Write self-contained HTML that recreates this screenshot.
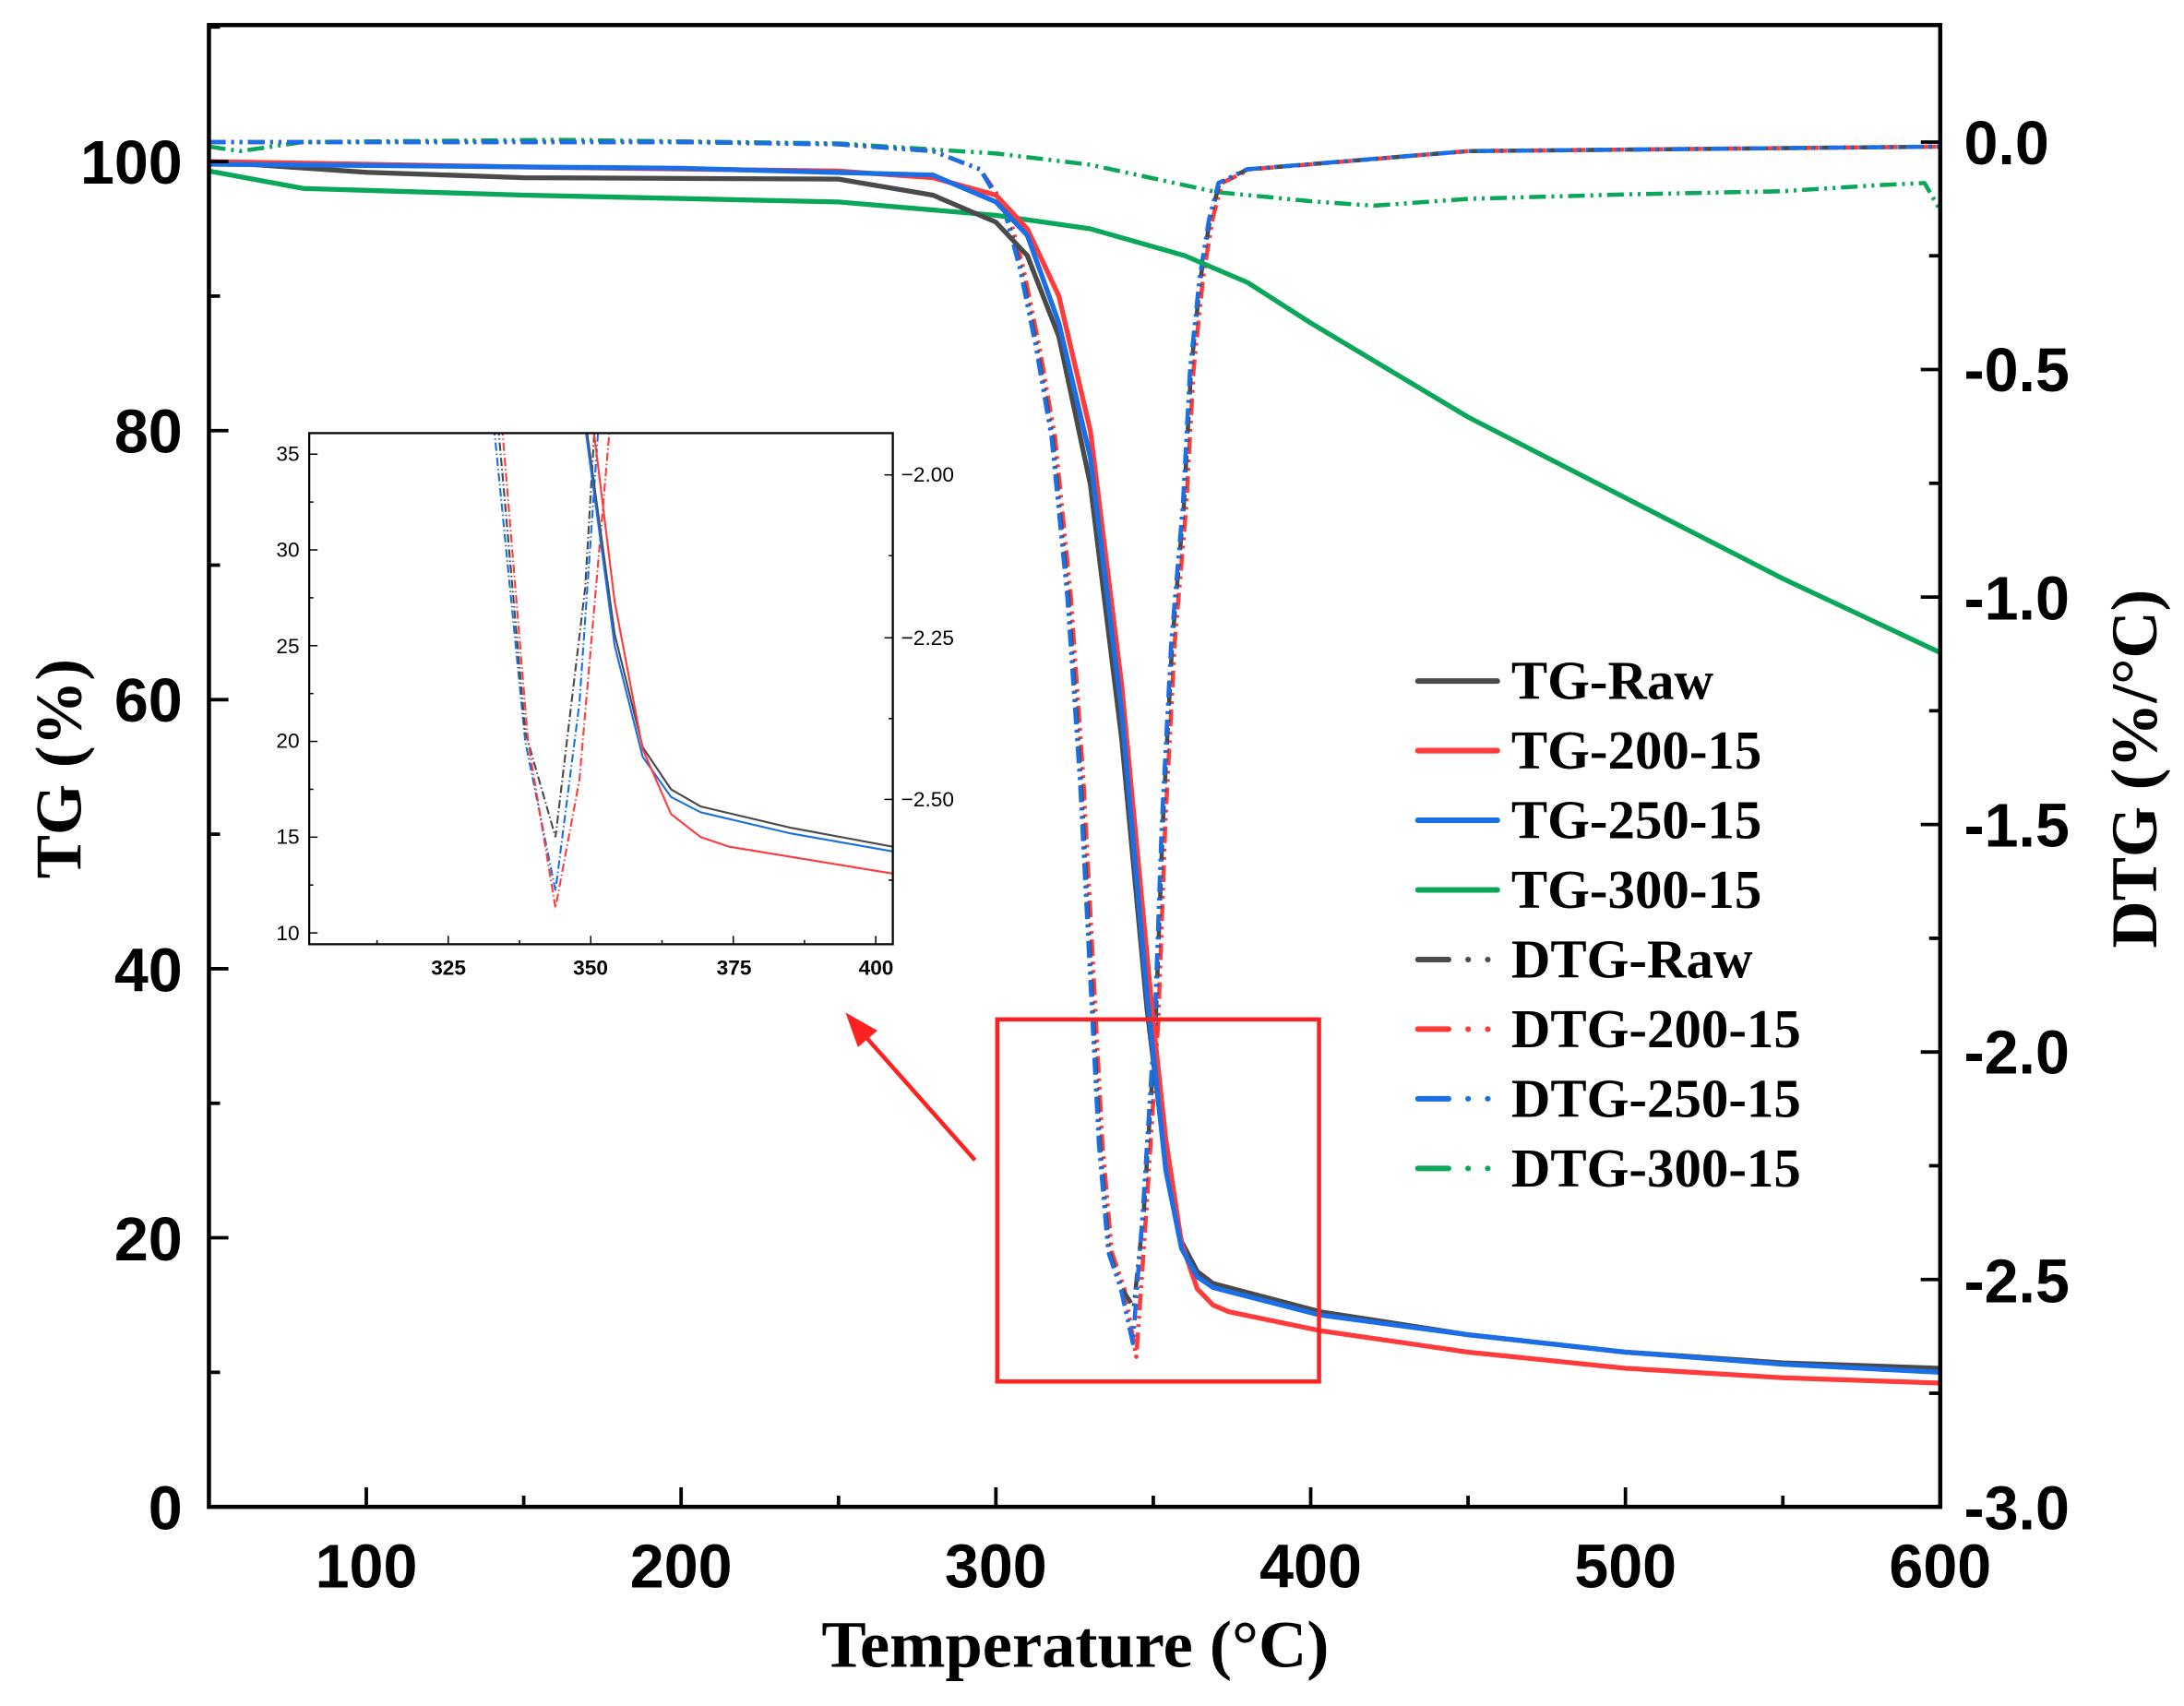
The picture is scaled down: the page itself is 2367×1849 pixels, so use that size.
<!DOCTYPE html>
<html><head><meta charset="utf-8"><style>html,body{margin:0;padding:0;background:#fff}svg{display:block}</style></head>
<body>
<svg id="s" width="2367" height="1849" viewBox="0 0 1568 1225" preserveAspectRatio="none" xmlns="http://www.w3.org/2000/svg">
<rect width="1568" height="1225" fill="#fff"/>
<g id="plot"></g>
<g font-family="Liberation Sans, sans-serif" font-weight="bold" font-size="44" fill="#000">
<text x="131" y="132" text-anchor="end">100</text>
<text x="131" y="325" text-anchor="end">80</text>
<text x="131" y="518" text-anchor="end">60</text>
<text x="131" y="712" text-anchor="end">40</text>
<text x="131" y="905" text-anchor="end">20</text>
<text x="131" y="1098" text-anchor="end">0</text>
<text x="263" y="1140" text-anchor="middle">100</text>
<text x="489" y="1140" text-anchor="middle">200</text>
<text x="715" y="1140" text-anchor="middle">300</text>
<text x="941" y="1140" text-anchor="middle">400</text>
<text x="1167" y="1140" text-anchor="middle">500</text>
<text x="1393" y="1140" text-anchor="middle">600</text>
<text x="1410" y="118">0.0</text>
<text x="1410" y="281">-0.5</text>
<text x="1410" y="445">-1.0</text>
<text x="1410" y="608">-1.5</text>
<text x="1410" y="771">-2.0</text>
<text x="1410" y="935">-2.5</text>
<text x="1410" y="1098">-3.0</text>
</g>
<g font-family="Liberation Serif, serif" font-weight="bold" fill="#000">
<text x="772" y="1197" font-size="48" text-anchor="middle">Temperature (°C)</text>
<text transform="translate(58,552) rotate(-90)" font-size="47" text-anchor="middle">TG (%)</text>
<text transform="translate(1548,552) rotate(-90)" font-size="47" text-anchor="middle">DTG (%/°C)</text>
</g>
<g font-family="Liberation Serif, serif" font-weight="bold" font-size="39" fill="#000" id="leg"></g>
<g font-family="Liberation Sans, sans-serif" font-size="15" fill="#000">
<text x="215" y="331" text-anchor="end">35</text>
<text x="215" y="400" text-anchor="end">30</text>
<text x="215" y="469" text-anchor="end">25</text>
<text x="215" y="537" text-anchor="end">20</text>
<text x="215" y="606" text-anchor="end">15</text>
<text x="215" y="675" text-anchor="end">10</text>
<text x="322" y="700" text-anchor="middle" font-weight="bold">325</text>
<text x="424" y="700" text-anchor="middle" font-weight="bold">350</text>
<text x="527" y="700" text-anchor="middle" font-weight="bold">375</text>
<text x="629" y="700" text-anchor="middle" font-weight="bold">400</text>
<text x="647" y="346">−2.00</text>
<text x="647" y="463">−2.25</text>
<text x="647" y="579">−2.50</text>
</g>
<rect x="716" y="732" width="231" height="260" fill="none" stroke="#ff2020" stroke-width="3"/>
<line x1="700" y1="833" x2="622" y2="745" stroke="#ff2020" stroke-width="3"/>
<polygon points="607,727 630,740 616,752" fill="#ff2020"/>
<script>
(function(){
var NS="http://www.w3.org/2000/svg",g=document.getElementById('plot');
function el(n,a){var e=document.createElementNS(NS,n);for(var k in a)e.setAttribute(k,a[k]);g.appendChild(e);return e;}
var X=function(t){return 150+(t-50)*2.26},Y=function(v){return 1082-9.66*v},YD=function(d){return 102-326.7*d};
function path(pts,fx,fy,col,w,dash){var d=pts.map(function(p,i){return(i?'L':'M')+fx(p[0]).toFixed(1)+','+fy(p[1]).toFixed(1)}).join('');var a={d:d,fill:'none',stroke:col,'stroke-width':w,'stroke-linejoin':'round'};if(dash)a['stroke-dasharray']=dash;return el('path',a);}
var K='#4a4a4a',R='#ff3b3b',B='#1a6fe6',G='#0aa65a';
var dd='12,4,2,4,2,4';
var dk=[[50,0.0],[100,0.0],[200,0.0],[250,-0.005],[280,-0.02],[295,-0.06],[303,-0.15],[308,-0.28],[313,-0.45],[318,-0.65],[323,-1.0],[327,-1.4],[330,-1.8],[333,-2.2],[336,-2.44],[340,-2.52],[343.8,-2.56],[347,-2.35],[350.8,-1.93],[353,-1.5],[356,-1.1],[359.7,-0.8],[362,-0.5],[365,-0.3],[368,-0.17],[371,-0.09],[380,-0.06],[450,-0.02],[600,-0.01]];
function shift(arr,dx,minv){return arr.map(function(p){var v=p[1];if(p[0]>341&&p[0]<347&&minv)v=minv;return[p[0]+(p[0]>300&&p[0]<400?dx:0),v];});}
var dg=[[50,-0.01],[60,-0.02],[80,0],[160,0.005],[250,-0.003],[300,-0.025],[330,-0.05],[350,-0.08],[370,-0.11],[400,-0.13],[420,-0.14],[450,-0.125],[500,-0.115],[550,-0.108],[580,-0.095],[595,-0.09],[600,-0.15]];
path(dg,X,YD,G,3,dd);
path(shift(dk,0.8,-2.67),X,YD,R,3,dd);
path(shift(dk,0,-2.56),X,YD,K,3,dd);
path(shift(dk,-0.3,-2.64),X,YD,B,3,dd);
var tk=[[50,100],[100,99.2],[150,98.8],[250,98.7],[280,97.5],[300,95.5],[310,93],[320,87],[330,76],[340,57],[348,37],[354,25.6],[359,19.7],[364,17.5],[369,16.6],[403,14.5],[450,12.8],[500,11.5],[550,10.7],[600,10.3]];
var tr=[[50,100],[150,99.6],[250,99.3],[280,98.8],[300,97.5],[310,95],[320,90],[330,80],[340,61],[350,36],[354,27.3],[359,19.6],[364,16.2],[369,15],[374,14.5],[403,13.1],[450,11.5],[500,10.3],[550,9.6],[600,9.2]];
var tb=[[50,99.8],[200,99.5],[280,99],[300,97],[310,94.5],[320,88],[330,78],[340,59],[348,38],[354,25],[359,19.2],[364,17.1],[369,16.3],[403,14.25],[450,12.8],[500,11.5],[550,10.6],[600,10.0]];
var tg=[[50,99.3],[80,98],[150,97.5],[250,97],[300,96],[330,95],[360,93],[380,91],[400,88],[450,81],[500,75],[550,69],[600,63.5]];
path(tg,X,Y,G,3.5);path(tk,X,Y,K,3.5);path(tr,X,Y,R,3.5);path(tb,X,Y,B,3.5);
el('rect',{x:150,y:18,width:1243,height:1064,fill:'none',stroke:'#000','stroke-width':3});
for(var t=100;t<=600;t+=50){var big=t%100==0;el('line',{x1:X(t),y1:1082,x2:X(t),y2:1082-(big?14:8),stroke:'#000','stroke-width':2.5});}
for(var v=10;v<=110;v+=10){el('line',{x1:150,y1:Y(v),x2:150+(v%20==0?14:8),y2:Y(v),stroke:'#000','stroke-width':2.5});}
for(var d=0;d>=-3;d-=0.25){var b=Math.abs(d*2-Math.round(d*2))<1e-6;el('line',{x1:1393,y1:YD(d),x2:1393-(b?14:8),y2:YD(d),stroke:'#000','stroke-width':2.5});}
var IX=function(t){return 222+(t-300.6)*4.092},IY=function(v){return 311+(36.1-v)*13.75};
el('rect',{x:222,y:311,width:419,height:367,fill:'#fff',stroke:'none'});
el('clipPath',{id:'ic'}).appendChild((function(){var r=document.createElementNS(NS,'rect');r.setAttribute('x',222);r.setAttribute('y',311);r.setAttribute('width',419);r.setAttribute('height',367);return r})());
var ig=document.createElementNS(NS,'g');ig.setAttribute('clip-path','url(#ic)');g.appendChild(ig);
function ipath(pts,col,dash){var d=pts.map(function(p,i){return(i?'L':'M')+IX(p[0]).toFixed(1)+','+IY(p[1]).toFixed(1)}).join('');var e=document.createElementNS(NS,'path');e.setAttribute('d',d);e.setAttribute('fill','none');e.setAttribute('stroke',col);e.setAttribute('stroke-width',1.4);if(dash)e.setAttribute('stroke-dasharray',dash);ig.appendChild(e);}
var idd='6,2,1,2';
ipath([[332.5,38],[338.5,20],[343.8,12.2],[348,22],[351.7,38]],B,idd);
ipath([[333.3,38],[338.5,20.5],[343.8,15],[349,28],[351,38]],K,idd);
ipath([[334,38],[339,20],[343.8,11.3],[348,18],[353.8,38]],R,idd);
ipath([[348.5,38],[354.2,25.6],[359.1,19.7],[364.1,17.5],[369.3,16.6],[385,15.5],[403,14.5]],K);
ipath([[348.3,38],[354.2,25],[359.1,19.2],[364.1,17.1],[369.3,16.3],[385,15.2],[403,14.25]],B);
ipath([[349.8,38],[354.2,27.3],[359.1,19.6],[364.1,16.2],[369.3,15],[374.3,14.5],[403,13.1]],R);
el('rect',{x:222,y:311,width:419,height:367,fill:'none',stroke:'#000','stroke-width':1.5});
for(var v=10;v<=35;v+=2.5){el('line',{x1:222,y1:IY(v),x2:222+(v%5==0?6:3),y2:IY(v),stroke:'#000','stroke-width':1});}
for(var t=312.5;t<=400;t+=12.5){el('line',{x1:IX(t),y1:678,x2:IX(t),y2:678-(t%25==0?6:3),stroke:'#000','stroke-width':1});}
[341,399,458,516,574,632].forEach(function(y,i){el('line',{x1:641,y1:y,x2:641-(i%2==0?6:3),y2:y,stroke:'#000','stroke-width':1});});
var L=document.getElementById('leg');
var items=[['TG-Raw',K,0],['TG-200-15',R,0],['TG-250-15',B,0],['TG-300-15',G,0],['DTG-Raw',K,1],['DTG-200-15',R,1],['DTG-250-15',B,1],['DTG-300-15',G,1]];
items.forEach(function(it,i){var y=489+50*i;
 var a={x1:1018,y1:y,x2:1075,y2:y,stroke:it[1],'stroke-width':4,'stroke-linecap':'round'};
 if(it[2])a['stroke-dasharray']='22,14,0.1,14,0.1,40';
 el('line',a);
 var t=document.createElementNS(NS,'text');t.setAttribute('x',1085);t.setAttribute('y',y+13);t.textContent=it[0];L.appendChild(t);});
})();
</script>
</svg>
</body></html>
